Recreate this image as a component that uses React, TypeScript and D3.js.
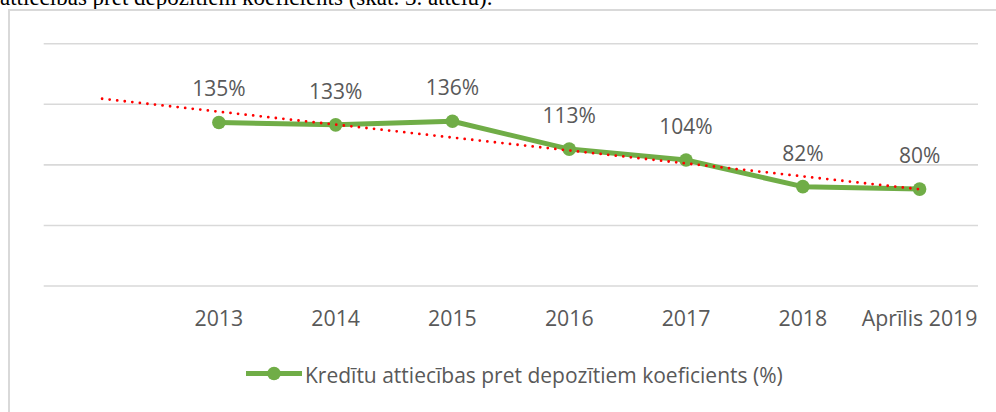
import React from "react";
import * as d3 from "d3";

const categories: string[] = ["", "2013", "2014", "2015", "2016", "2017", "2018", "Aprīlis 2019"];
const ratioValues: (number | null)[] = [null, 135, 133, 136, 113, 104, 82, 80];
const yTicks: number[] = [0, 50, 100, 150, 200];
const seriesName = "Kredītu attiecības pret depozītiem koeficients (%)";
const captionText = "attiecības pret depozītiem koeficients (skat. 3. attēlu).";

const W = 996;
const H = 412;
const GREEN = "#70AD47";
const TEXT = "#595959";
const GRID = "#d9d9d9";
const FONT = "'Open Sans', 'Noto Sans', sans-serif";

export default function App() {
  const x = d3.scaleBand<string>().domain(categories.map((c, i) => String(i))).range([43.7, 978]);
  const cx = (i: number) => (x(String(i)) as number) + x.bandwidth() / 2;
  const y = d3.scaleLinear().domain([0, 200]).range([286, 43.7]);

  const pts = ratioValues
    .map((v, i) => ({ i, v }))
    .filter((d) => d.v !== null) as { i: number; v: number }[];

  const line = d3
    .line<{ i: number; v: number }>()
    .x((d) => cx(d.i))
    .y((d) => y(d.v));

  // linear trendline (least squares on category index)
  const xs = pts.map((d) => d.i + 1);
  const ys = pts.map((d) => d.v);
  const mx = d3.mean(xs) as number;
  const my = d3.mean(ys) as number;
  let sxy = 0;
  let sxx = 0;
  xs.forEach((xv, k) => {
    sxy += (xv - mx) * (ys[k] - my);
    sxx += (xv - mx) * (xv - mx);
  });
  const slope = sxy / sxx;
  const icpt = my - slope * mx;
  const trend = categories.map((_, i) => ({ i, v: icpt + slope * (i + 1) }));

  return (
    <svg
      width={W}
      height={H}
      style={{ position: "absolute", left: 0, top: 0, background: "#fff" }}
    >
      <text x={0} y={5} fontFamily="'Liberation Serif', 'Times New Roman', serif" fontSize={23} fill="#000">
        {captionText}
      </text>
      <rect x={9} y={10} width={1000} height={420} fill="#fff" stroke={GRID} strokeWidth={2} />

      {yTicks.map((t) => (
        <line key={t} x1={43.7} x2={978} y1={y(t)} y2={y(t)} stroke={GRID} strokeWidth={1.6} />
      ))}

      <path d={line(pts) as string} fill="none" stroke={GREEN} strokeWidth={5} strokeLinejoin="round" />
      {pts.map((d) => (
        <circle key={d.i} cx={cx(d.i)} cy={y(d.v)} r={6.8} fill={GREEN} />
      ))}

      <path
        d={line(trend) as string}
        fill="none"
        stroke="#FF0000"
        strokeWidth={2.8}
        strokeLinecap="round"
        strokeDasharray="0 7.6"
      />

      {pts.map((d) => (
        <text
          key={"l" + d.i}
          x={cx(d.i)}
          y={y(d.v) - 26}
          textAnchor="middle"
          fontFamily={FONT}
          fontSize={21}
          fill={TEXT}
        >
          {d.v + "%"}
        </text>
      ))}

      {categories.map((c, i) => (
        <text key={"c" + i} x={cx(i)} y={326} textAnchor="middle" fontFamily={FONT} fontSize={21.3} fill={TEXT}>
          {c}
        </text>
      ))}

      <line x1={246} x2={302} y1={373.5} y2={373.5} stroke={GREEN} strokeWidth={5} />
      <circle cx={274} cy={373.5} r={6.8} fill={GREEN} />
      <text x={305} y={383} fontFamily={FONT} fontSize={21} fill={TEXT}>
        {seriesName}
      </text>
    </svg>
  );
}
